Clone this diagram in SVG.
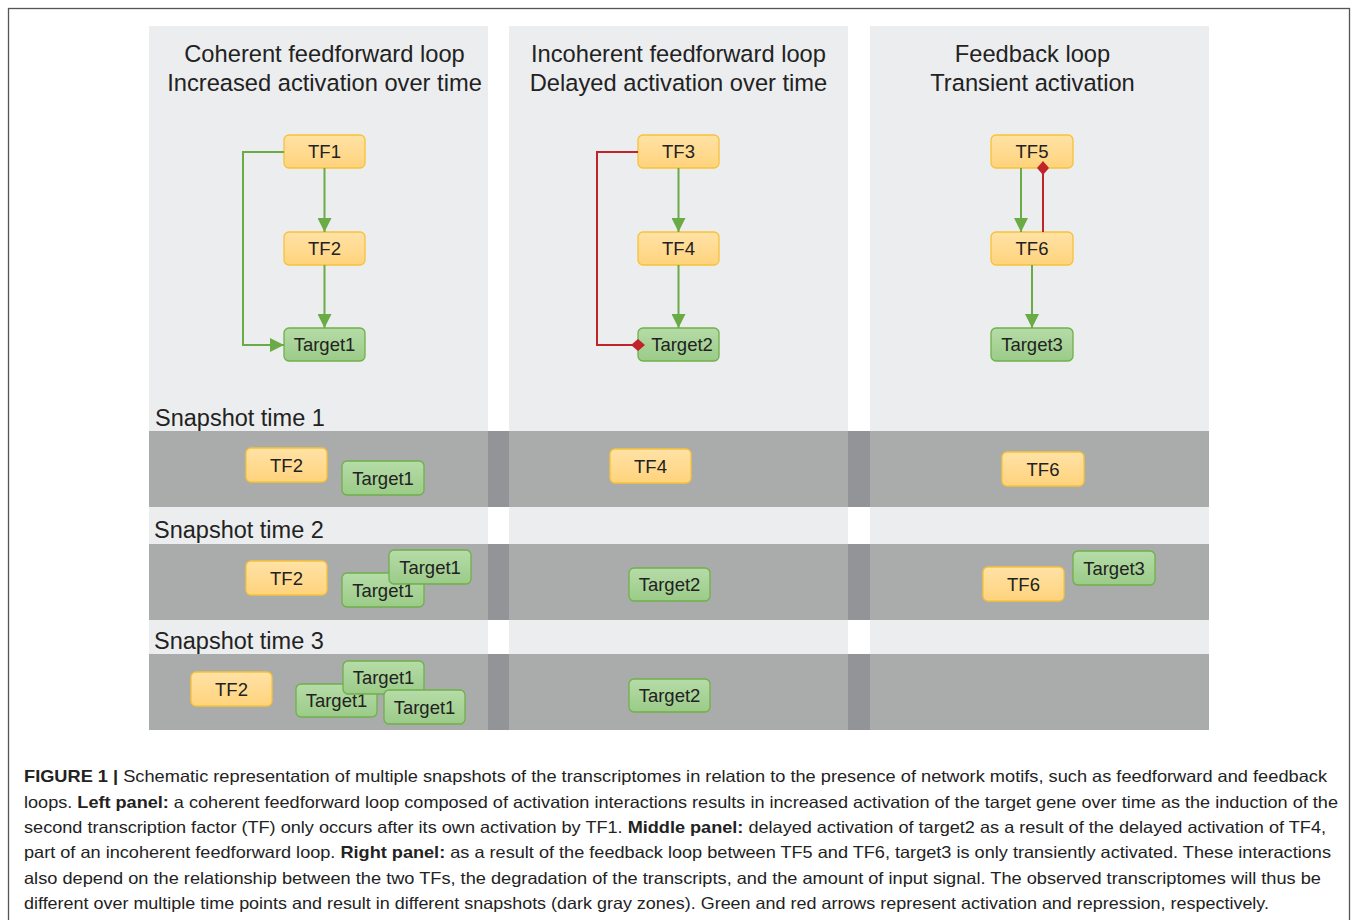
<svg xmlns="http://www.w3.org/2000/svg" width="1358" height="920" viewBox="0 0 1358 920">
<defs>
<linearGradient id="gy" x1="0" y1="0" x2="0" y2="1"><stop offset="0" stop-color="#ffe2a6"/><stop offset="1" stop-color="#ffd37c"/></linearGradient>
<linearGradient id="gg" x1="0" y1="0" x2="0" y2="1"><stop offset="0" stop-color="#b6dca8"/><stop offset="1" stop-color="#9bcb88"/></linearGradient>
<marker id="arr" markerUnits="userSpaceOnUse" markerWidth="14" markerHeight="14" refX="14" refY="7" orient="auto"><path d="M0,0 L14,7 L0,14 z" fill="#6aab45"/></marker>
<marker id="dia" markerUnits="userSpaceOnUse" markerWidth="14" markerHeight="12" refX="7" refY="6" orient="auto"><path d="M0,6 L7,0 L14,6 L7,12 z" fill="#c1232b"/></marker>
</defs>
<style>
.panel{fill:#ecedef}
.band{fill:#aaabab}
.gap{fill:#939497}
.tf{fill:url(#gy);stroke:#f6c238;stroke-width:1.3}
.tg{fill:url(#gg);stroke:#6fb04a;stroke-width:1.3}
.nt{font-family:"Liberation Sans",Arial,sans-serif;font-size:18.5px;fill:#222;text-anchor:middle}
.title{font-family:"Liberation Sans",Arial,sans-serif;font-size:23.7px;fill:#222;text-anchor:middle}
.snap{font-family:"Liberation Sans",Arial,sans-serif;font-size:23.5px;fill:#222}
.act{fill:none;stroke:#6aab45;stroke-width:2;marker-end:url(#arr)}
.rep{fill:none;stroke:#c1232b;stroke-width:2;marker-end:url(#dia)}
.cap{font-family:"Liberation Sans",Arial,sans-serif;font-size:16.5px;fill:#222}
.b{font-weight:bold}
</style>
<rect x="0" y="0" width="1358" height="920" fill="#ffffff"/>
<rect x="8.5" y="8.5" width="1341" height="1000" fill="none" stroke="#555" stroke-width="1.3"/>

<!-- panels -->
<g id="panels">
<rect class="panel" x="149" y="26" width="339" height="704"/>
<rect class="panel" x="509" y="26" width="339" height="704"/>
<rect class="panel" x="870" y="26" width="339" height="704"/>
<rect class="band" x="149" y="431" width="1060" height="76"/>
<rect class="band" x="149" y="544" width="1060" height="76"/>
<rect class="band" x="149" y="654" width="1060" height="76"/>
<rect class="gap" x="488" y="431" width="21" height="76"/>
<rect class="gap" x="848" y="431" width="22" height="76"/>
<rect class="gap" x="488" y="544" width="21" height="76"/>
<rect class="gap" x="848" y="544" width="22" height="76"/>
<rect class="gap" x="488" y="654" width="21" height="76"/>
<rect class="gap" x="848" y="654" width="22" height="76"/>
</g>

<g id="titles">
<text class="title" x="324.5" y="62">Coherent feedforward loop</text>
<text class="title" x="324.5" y="91">Increased activation over time</text>
<text class="title" x="678.5" y="62">Incoherent feedforward loop</text>
<text class="title" x="678.5" y="91">Delayed activation over time</text>
<text class="title" x="1032.5" y="62">Feedback loop</text>
<text class="title" x="1032.5" y="91">Transient activation</text>
<text class="snap" x="155" y="426">Snapshot time 1</text>
<text class="snap" x="154" y="538">Snapshot time 2</text>
<text class="snap" x="154" y="649">Snapshot time 3</text>
</g>

<!-- top nodes -->
<g id="TF1"><rect class="tf" x="284" y="135" width="81" height="33" rx="5"/><text class="nt" x="324.5" y="158">TF1</text></g>
<g id="TF2"><rect class="tf" x="284" y="232" width="81" height="33" rx="5"/><text class="nt" x="324.5" y="255">TF2</text></g>
<g id="Target1"><rect class="tg" x="284" y="328" width="81" height="33" rx="5"/><text class="nt" x="324.5" y="351">Target1</text></g>
<g id="TF3"><rect class="tf" x="638" y="135" width="81" height="33" rx="5"/><text class="nt" x="678.5" y="158">TF3</text></g>
<g id="TF4"><rect class="tf" x="638" y="232" width="81" height="33" rx="5"/><text class="nt" x="678.5" y="255">TF4</text></g>
<g id="Target2"><rect class="tg" x="638" y="328" width="81" height="33" rx="5"/><text class="nt" x="682" y="351">Target2</text></g>
<g id="TF5"><rect class="tf" x="991" y="135" width="82" height="33" rx="5"/><text class="nt" x="1032" y="158">TF5</text></g>
<g id="TF6"><rect class="tf" x="991" y="232" width="82" height="33" rx="5"/><text class="nt" x="1032" y="255">TF6</text></g>
<g id="Target3"><rect class="tg" x="991" y="328" width="82" height="33" rx="5"/><text class="nt" x="1032" y="351">Target3</text></g>

<!-- connectors -->
<g id="connectors">
<path class="act" d="M324.5,168 V232"/>
<path class="act" d="M324.5,265 V328"/>
<path class="act" d="M284,152 H243 V345 H284"/>
<path class="act" d="M678.5,168 V232"/>
<path class="act" d="M678.5,265 V328"/>
<path class="rep" d="M638,152 H597 V345 H638"/>
<path class="act" d="M1021,168 V232"/>
<path class="rep" d="M1043,232 V168"/>
<path class="act" d="M1032,265 V328"/>
</g>

<!-- snapshot 1 -->
<g id="s1-TF2"><rect class="tf" x="246" y="448" width="81" height="34" rx="5"/><text class="nt" x="286.5" y="471.5">TF2</text></g>
<g id="s1-Target1"><rect class="tg" x="342" y="461" width="82" height="34" rx="5"/><text class="nt" x="383" y="484.5">Target1</text></g>
<g id="s1-TF4"><rect class="tf" x="610" y="449" width="81" height="34" rx="5"/><text class="nt" x="650.5" y="472.5">TF4</text></g>
<g id="s1-TF6"><rect class="tf" x="1002" y="452" width="82" height="34" rx="5"/><text class="nt" x="1043" y="475.5">TF6</text></g>

<!-- snapshot 2 -->
<g id="s2-TF2"><rect class="tf" x="246" y="561" width="81" height="34" rx="5"/><text class="nt" x="286.5" y="584.5">TF2</text></g>
<g id="s2-Target1a"><rect class="tg" x="342" y="573" width="82" height="34" rx="5"/><text class="nt" x="383" y="596.5">Target1</text></g>
<g id="s2-Target1b"><rect class="tg" x="389" y="550" width="82" height="34" rx="5"/><text class="nt" x="430" y="573.5">Target1</text></g>
<g id="s2-Target2"><rect class="tg" x="629" y="568" width="81" height="33" rx="5"/><text class="nt" x="669.5" y="591">Target2</text></g>
<g id="s2-TF6"><rect class="tf" x="983" y="567" width="81" height="34" rx="5"/><text class="nt" x="1023.5" y="590.5">TF6</text></g>
<g id="s2-Target3"><rect class="tg" x="1073" y="551" width="82" height="34" rx="5"/><text class="nt" x="1114" y="574.5">Target3</text></g>

<!-- snapshot 3 -->
<g id="s3-TF2"><rect class="tf" x="191" y="672" width="81" height="34" rx="5"/><text class="nt" x="231.5" y="695.5">TF2</text></g>
<g id="s3-Target1a"><rect class="tg" x="296" y="684" width="81" height="33" rx="5"/><text class="nt" x="336.5" y="707">Target1</text></g>
<g id="s3-Target1b"><rect class="tg" x="343" y="661" width="81" height="33" rx="5"/><text class="nt" x="383.5" y="684">Target1</text></g>
<g id="s3-Target1c"><rect class="tg" x="384" y="690" width="81" height="34" rx="5"/><text class="nt" x="424.5" y="713.5">Target1</text></g>
<g id="s3-Target2"><rect class="tg" x="629" y="679" width="81" height="33" rx="5"/><text class="nt" x="669.5" y="702">Target2</text></g>

<!-- caption -->
<g id="caption">
<text class="cap" x="24" y="782" textLength="1303" lengthAdjust="spacingAndGlyphs"><tspan class="b">FIGURE 1 |</tspan> Schematic representation of multiple snapshots of the transcriptomes in relation to the presence of network motifs, such as feedforward and feedback</text>
<text class="cap" x="24" y="807.5" textLength="1314" lengthAdjust="spacingAndGlyphs">loops. <tspan class="b">Left panel:</tspan> a coherent feedforward loop composed of activation interactions results in increased activation of the target gene over time as the induction of the</text>
<text class="cap" x="24" y="833" textLength="1302" lengthAdjust="spacingAndGlyphs">second transcription factor (TF) only occurs after its own activation by TF1. <tspan class="b">Middle panel:</tspan> delayed activation of target2 as a result of the delayed activation of TF4,</text>
<text class="cap" x="24" y="858" textLength="1307" lengthAdjust="spacingAndGlyphs">part of an incoherent feedforward loop. <tspan class="b">Right panel:</tspan> as a result of the feedback loop between TF5 and TF6, target3 is only transiently activated. These interactions</text>
<text class="cap" x="24" y="883.5" textLength="1297" lengthAdjust="spacingAndGlyphs">also depend on the relationship between the two TFs, the degradation of the transcripts, and the amount of input signal. The observed transcriptomes will thus be</text>
<text class="cap" x="24" y="909" textLength="1245" lengthAdjust="spacingAndGlyphs">different over multiple time points and result in different snapshots (dark gray zones). Green and red arrows represent activation and repression, respectively.</text>
</g>
</svg>
